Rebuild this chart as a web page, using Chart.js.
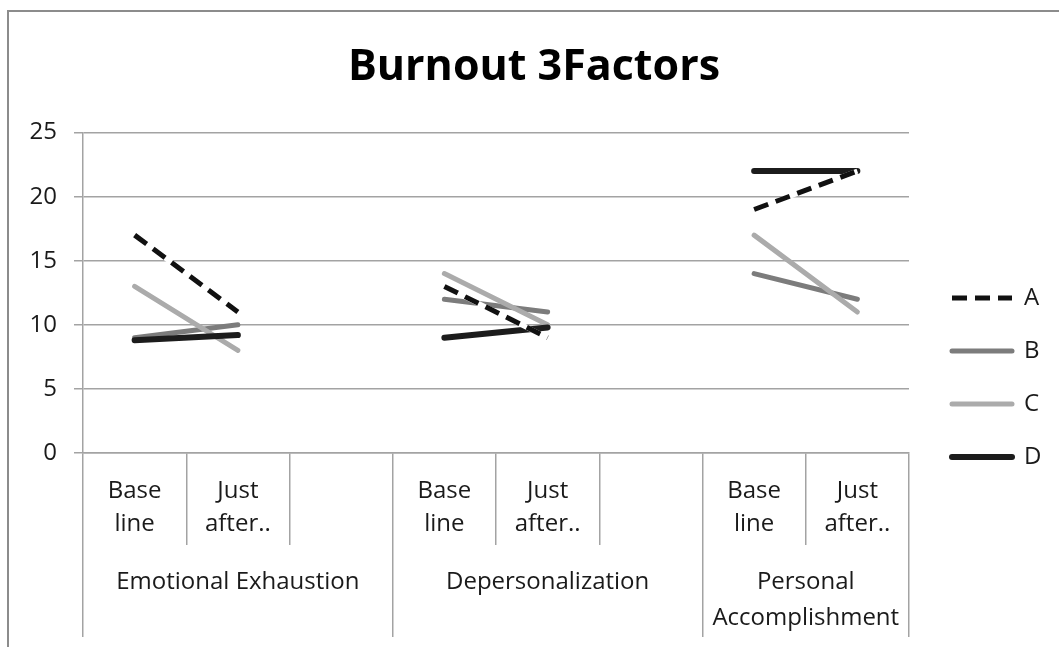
<!DOCTYPE html>
<html>
<head>
<meta charset="utf-8">
<title>Burnout 3Factors</title>
<script src="https://cdn.jsdelivr.net/npm/chart.js@4.4.1/dist/chart.umd.min.js"></script>
<style>
  html, body { margin: 0; padding: 0; background: #fff; overflow: hidden; }
  #frame {
    position: absolute; left: 7px; top: 10px;
    width: 1060px; height: 660px;
    border-left: 2px solid #8c8c8c; border-top: 2px solid #8c8c8c;
  }
  canvas { display: block; }
</style>
</head>
<body>
<div id="frame"><canvas id="burnoutChart" width="1050" height="640"></canvas></div>
<script>
// x categories (blank slot separates the factor groups)
const categories = [
    ['Base', 'line'], ['Just', 'after..'], '',
    ['Base', 'line'], ['Just', 'after..'], '',
    ['Base', 'line'], ['Just', 'after..']
];
const factors = ['Emotional Exhaustion', 'Depersonalization', ['Personal', 'Accomplishment']];
const factorSizes = [3, 3, 2];

const seriesA = [17, 11, null, 13, 9, null, 19, 22];
const seriesB = [9, 10, null, 12, 11, null, 14, 12];
const seriesC = [13, 8, null, 14, 10, null, 17, 11];
const seriesD = [8.8, 9.2, null, 9, 9.8, null, 22, 22];

const yTicks = [0, 5, 10, 15, 20, 25];

const gridColor = '#a3a3a3';
const textColor = '#1a1a1a';
const fontFamily = '"Open Sans", Lato, sans-serif';

// group edges and centres along the category index
const edges = [0];
factorSizes.forEach(n => edges.push(edges[edges.length - 1] + n));
const centres = factorSizes.map((n, i) => edges[i] + n / 2);

function lineSet(label, data, color, width, order, extra) {
    return Object.assign({
        label: label,
        data: data,
        borderColor: color,
        backgroundColor: color,
        borderWidth: width,
        borderCapStyle: 'round',
        pointRadius: 0,
        pointHoverRadius: 0,
        tension: 0,
        spanGaps: false,
        order: order
    }, extra || {});
}

// legend sits in a fixed strip right of the plot
const legendPlacer = {
    id: 'legendPlacer',
    beforeLayout(chart) {
        const legend = chart.legend;
        if (!legend || legend._fitWrapped) return;
        const fit = legend.fit;
        legend.fit = function () {
            fit.call(this);
            if (!this.isHorizontal()) this.width = 150;
        };
        legend._fitWrapped = true;
    },
    afterLayout(chart) {
        const legend = chart.legend;
        legend.left += 14;
        legend.top += 53;
        legend.bottom += 53;
    }
};

const ctx = document.getElementById('burnoutChart').getContext('2d');
new Chart(ctx, {
    type: 'line',
    data: {
        labels: categories,
        datasets: [
            lineSet('A', seriesA, '#111111', 5, 0, { borderDash: [15, 8], borderCapStyle: 'butt' }),
            lineSet('', seriesA, '#ffffff', 5, 1, { borderCapStyle: 'butt' }),
            lineSet('B', seriesB, '#7c7c7c', 5, 4),
            lineSet('C', seriesC, '#ababab', 5, 3),
            lineSet('D', seriesD, '#1c1c1c', 6, 2)
        ]
    },
    plugins: [legendPlacer],
    options: {
        responsive: false,
        animation: false,
        devicePixelRatio: 1,
        layout: { padding: { left: 0, right: 0, top: 0, bottom: 15 } },
        plugins: {
            title: {
                display: true,
                text: 'Burnout 3Factors',
                color: '#000',
                font: { family: fontFamily, size: 43, weight: 'bold', lineHeight: 1.2 },
                padding: { top: 30, bottom: 39 }
            },
            legend: {
                position: 'right',
                labels: {
                    usePointStyle: true,
                    pointStyle: 'line',
                    pointStyleWidth: 60,
                    padding: 29,
                    color: textColor,
                    font: { family: fontFamily, size: 24 },
                    filter: item => item.text !== '',
                    sort: (a, b) => a.datasetIndex - b.datasetIndex,
                    generateLabels: chart => Chart.defaults.plugins.legend.labels.generateLabels(chart).map(item => {
                        const ds = chart.data.datasets[item.datasetIndex];
                        item.lineDash = ds.borderDash || [];
                        item.lineWidth = ds.borderWidth;
                        item.strokeStyle = ds.borderColor;
                        item.lineCap = ds.borderCapStyle;
                        return item;
                    })
                }
            },
            tooltip: { enabled: false }
        },
        scales: {
            y: {
                min: 0,
                max: 25,
                afterBuildTicks: scale => { scale.ticks = yTicks.map(v => ({ value: v })); },
                afterFit: scale => { scale.width = 74; },
                grid: { color: gridColor, lineWidth: 1.5, tickLength: 9 },
                border: { color: gridColor, width: 1.5 },
                ticks: { color: textColor, padding: 17, font: { family: fontFamily, size: 24 } }
            },
            x: {
                type: 'category',
                offset: true,
                afterFit: scale => { scale.height = 92; },
                grid: { offset: true, drawOnChartArea: false, color: gridColor, lineWidth: 1.5, tickLength: 92 },
                border: { color: gridColor, width: 1.5 },
                ticks: {
                    autoSkip: false, maxRotation: 0, minRotation: 0,
                    padding: -70,
                    color: textColor,
                    font: { family: fontFamily, size: 24, lineHeight: '33px' }
                }
            },
            x2: {
                type: 'linear',
                position: 'bottom',
                min: 0,
                max: edges[edges.length - 1],
                afterBuildTicks: scale => {
                    scale.ticks = edges.concat(centres).sort((a, b) => a - b).map(v => ({ value: v }));
                },
                afterFit: scale => { scale.height = 92; },
                grid: {
                    drawOnChartArea: false,
                    lineWidth: 1.5,
                    tickLength: 92,
                    color: c => (c.tick && centres.includes(c.tick.value)) ? 'rgba(0,0,0,0)' : gridColor
                },
                border: { display: false },
                ticks: {
                    autoSkip: false, maxRotation: 0, minRotation: 0,
                    padding: -73,
                    color: textColor,
                    font: { family: fontFamily, size: 24, lineHeight: '36px' },
                    callback: value => {
                        const i = centres.indexOf(value);
                        return i >= 0 ? factors[i] : '';
                    }
                }
            }
        }
    }
});
</script>
</body>
</html>
